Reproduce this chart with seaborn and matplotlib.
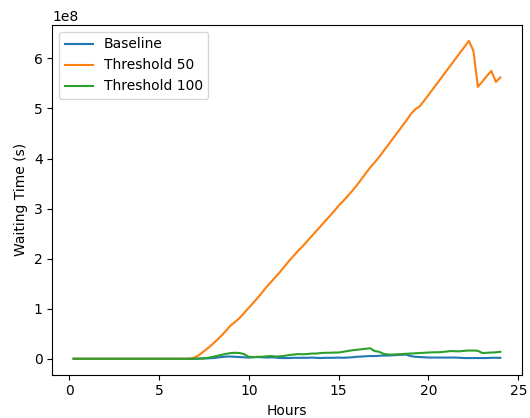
import numpy as np
import pandas as pd
import matplotlib
matplotlib.use("Agg")
import matplotlib.pyplot as plt
import seaborn as sns

# Time of day, sampled every 15 minutes
hours = [0.25 * i for i in range(1, 97)]

# Cumulative waiting time, in units of 1e8 seconds
baseline = [0.0] * 28 + [
    0.003, 0.006, 0.01, 0.015, 0.025, 0.035, 0.045, 0.045,          # 7.25 - 9.0
    0.04, 0.035, 0.03, 0.025, 0.03, 0.035, 0.03, 0.025,              # 9.25 - 11.0
    0.03, 0.025, 0.015, 0.015, 0.015, 0.02, 0.02, 0.02,              # 11.25 - 13.0
    0.02, 0.025, 0.02, 0.015, 0.02, 0.02, 0.02, 0.025,               # 13.25 - 15.0
    0.02, 0.025, 0.03, 0.04, 0.045, 0.05, 0.055, 0.055,              # 15.25 - 17.0
    0.06, 0.065, 0.065, 0.07, 0.075, 0.08, 0.085, 0.055,             # 17.25 - 19.0
    0.04, 0.035, 0.03, 0.025, 0.025, 0.025, 0.025, 0.025,            # 19.25 - 21.0
    0.025, 0.025, 0.02, 0.015, 0.015, 0.015, 0.015, 0.015,           # 21.25 - 23.0
    0.015, 0.02, 0.02, 0.02,                                         # 23.25 - 24.0
]

threshold_50 = [0.0] * 26 + [
    0.003, 0.03, 0.08, 0.15, 0.22, 0.30, 0.38, 0.47,                 # 6.75 - 8.5
    0.57, 0.67, 0.74, 0.82, 0.92, 1.02, 1.12, 1.22,                  # 8.75 - 10.5
    1.33, 1.44, 1.54, 1.64, 1.74, 1.85, 1.96, 2.06,                  # 10.75 - 12.5
    2.16, 2.25, 2.35, 2.45, 2.55, 2.65, 2.75, 2.85,                  # 12.75 - 14.5
    2.95, 3.06, 3.15, 3.25, 3.35, 3.46, 3.58, 3.70,                  # 14.75 - 16.5
    3.82, 3.92, 4.03, 4.15, 4.27, 4.39, 4.51, 4.63,                  # 16.75 - 18.5
    4.75, 4.88, 4.98, 5.04, 5.15, 5.27, 5.39, 5.51,                  # 18.75 - 20.5
    5.63, 5.75, 5.87, 5.99, 6.11, 6.23, 6.35, 6.15,                  # 20.75 - 22.5
    5.43, 5.54, 5.65, 5.75, 5.53, 5.62,                              # 22.75 - 24.0
]

threshold_100 = [0.0] * 27 + [
    0.003, 0.006, 0.01, 0.02, 0.04, 0.06, 0.08, 0.10,                # 7.0 - 8.75
    0.115, 0.12, 0.115, 0.09, 0.04, 0.035, 0.04, 0.04,               # 9.0 - 10.75
    0.05, 0.055, 0.045, 0.05, 0.06, 0.075, 0.085, 0.095,             # 11.0 - 12.75
    0.09, 0.095, 0.105, 0.105, 0.115, 0.12, 0.12, 0.125,             # 13.0 - 14.75
    0.125, 0.14, 0.155, 0.17, 0.18, 0.19, 0.20, 0.21,                # 15.0 - 16.75
    0.155, 0.14, 0.10, 0.085, 0.085, 0.09, 0.095, 0.10,              # 17.0 - 18.75
    0.105, 0.11, 0.115, 0.12, 0.125, 0.13, 0.13, 0.135,              # 19.0 - 20.75
    0.145, 0.155, 0.15, 0.15, 0.16, 0.165, 0.165, 0.16,              # 21.0 - 22.75
    0.115, 0.12, 0.125, 0.13, 0.14,                                  # 23.0 - 24.0
]

series = {
    "Baseline": baseline,
    "Threshold 50": threshold_50,
    "Threshold 100": threshold_100,
}

frames = []
for name, vals in series.items():
    frames.append(pd.DataFrame({
        "Hours": hours,
        "Waiting Time (s)": np.array(vals) * 1e8,
        "Scenario": name,
    }))
df = pd.concat(frames, ignore_index=True)

fig = plt.figure(figsize=(5.3, 4.18), dpi=100)
ax = fig.add_axes([0.0987, 0.1036, 0.9843 - 0.0987, 0.9402 - 0.1036])

palette = ["#1f77b4", "#ff7f0e", "#2ca02c"]
for color, name in zip(palette, series):
    sub = df[df["Scenario"] == name]
    sns.lineplot(data=sub, x="Hours", y="Waiting Time (s)", ax=ax,
                 color=color, label=name, linewidth=1.5)

ax.set_xlabel("Hours")
ax.set_ylabel("Waiting Time (s)")
ax.set_xticks([0, 5, 10, 15, 20, 25])
ax.legend(loc="upper left")

fig.savefig("out.png", dpi=100)
